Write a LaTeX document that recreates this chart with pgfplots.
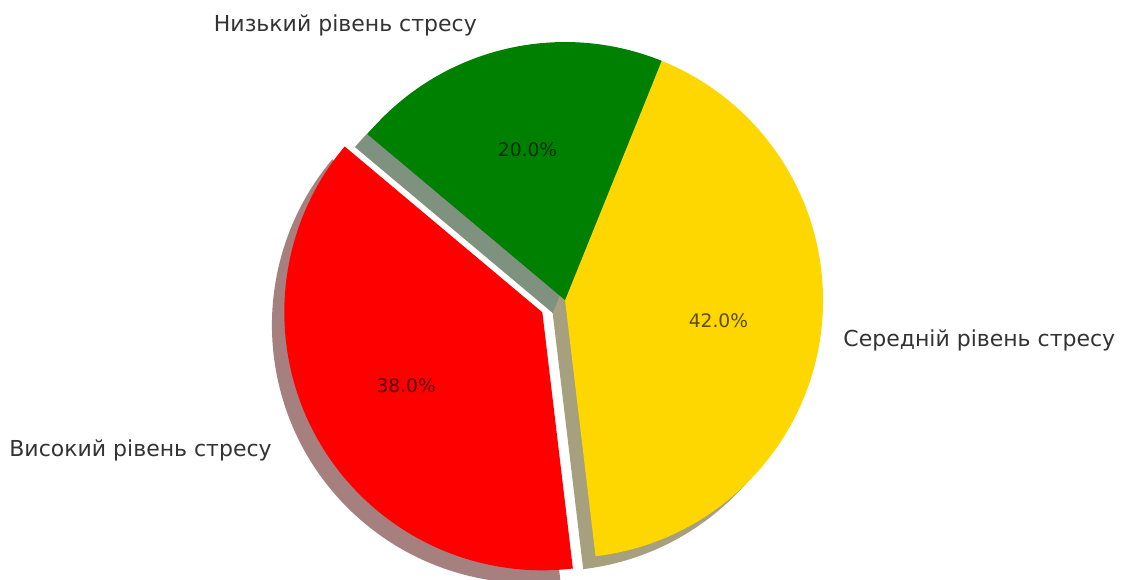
\documentclass[border=0pt]{standalone}
\usepackage{pgfplots}
\pgfplotsset{compat=1.18}
\usepackage{pgfplotstable}
\usepackage{fontspec}
\setmainfont{DejaVu Sans}
\definecolor{cRed}{RGB}{255,0,0}
\definecolor{cGold}{RGB}{255,215,0}
\definecolor{cGreen}{RGB}{0,128,0}
\definecolor{sRed}{RGB}{77,0,0}
\definecolor{sGold}{RGB}{77,65,0}
\definecolor{sGreen}{RGB}{0,38,0}
\definecolor{txt}{RGB}{51,51,51}

\pgfplotstableread{
label value
High 38
Medium 42
Low 20
}\piedata

\begin{document}
\begin{tikzpicture}
\pgfplotstablegetelem{0}{value}\of\piedata \let\vHigh\pgfplotsretval
\pgfplotstablegetelem{1}{value}\of\piedata \let\vMed\pgfplotsretval
\pgfplotstablegetelem{2}{value}\of\piedata \let\vLow\pgfplotsretval
\pgfmathsetmacro{\aZero}{140}
\pgfmathsetmacro{\aOne}{\aZero+3.6*\vHigh}
\pgfmathsetmacro{\aTwo}{\aOne+3.6*\vMed}
\pgfmathsetmacro{\aThree}{\aTwo+3.6*\vLow}
\pgfmathsetmacro{\mHigh}{(\aZero+\aOne)/2}
\pgfmathsetmacro{\mMed}{(\aOne+\aTwo)/2}
\pgfmathsetmacro{\mLow}{(\aTwo+\aThree)/2}
\pgfmathsetmacro{\ex}{0.1*cos(\mHigh)}
\pgfmathsetmacro{\ey}{0.1*sin(\mHigh)}
\def\sx{-0.048}
\def\sy{-0.05}
\def\R{193.5pt}
\pgfkeys{/pgf/number format/.cd, fixed, fixed zerofill, precision=1, assume math mode=true}
\begin{axis}[
  x=193.5pt, y=193.5pt,
  xmin=-2.190, xmax=2.186, ymin=-1.085, ymax=1.163,
  hide axis, clip=false,
]
\path (rel axis cs:0,0) rectangle (rel axis cs:1,1);
% shadows
\fill[overlay, sRed, fill opacity=0.5] (axis cs:{\ex+\sx},{\ey+\sy}) -- (axis cs:{\ex+\sx+cos(\aZero)},{\ey+\sy+sin(\aZero)}) arc[start angle=\aZero, end angle=\aOne, radius=\R] -- cycle;
\fill[overlay, sGold, fill opacity=0.5] (axis cs:{\sx},{\sy}) -- (axis cs:{\sx+cos(\aOne)},{\sy+sin(\aOne)}) arc[start angle=\aOne, end angle=\aTwo, radius=\R] -- cycle;
\fill[overlay, sGreen, fill opacity=0.5] (axis cs:{\sx},{\sy}) -- (axis cs:{\sx+cos(\aTwo)},{\sy+sin(\aTwo)}) arc[start angle=\aTwo, end angle=\aThree, radius=\R] -- cycle;
% wedges
\fill[overlay, cRed] (axis cs:{\ex},{\ey}) -- (axis cs:{\ex+cos(\aZero)},{\ey+sin(\aZero)}) arc[start angle=\aZero, end angle=\aOne, radius=\R] -- cycle;
\fill[overlay, cGold] (axis cs:0,0) -- (axis cs:{cos(\aOne)},{sin(\aOne)}) arc[start angle=\aOne, end angle=\aTwo, radius=\R] -- cycle;
\fill[overlay, cGreen] (axis cs:0,0) -- (axis cs:{cos(\aTwo)},{sin(\aTwo)}) arc[start angle=\aTwo, end angle=\aThree, radius=\R] -- cycle;
% percentages
\node[text=black, text opacity=0.65, font=\fontsize{14}{16}\selectfont] at (axis cs:{\ex+0.6*cos(\mHigh)},{\ey+0.6*sin(\mHigh)}) {\pgfmathprintnumber{\vHigh}\%};
\node[text=black, text opacity=0.65, font=\fontsize{14}{16}\selectfont] at (axis cs:{0.6*cos(\mMed)},{0.6*sin(\mMed)}) {\pgfmathprintnumber{\vMed}\%};
\node[text=black, text opacity=0.65, font=\fontsize{14}{16}\selectfont] at (axis cs:{0.6*cos(\mLow)},{0.6*sin(\mLow)}) {\pgfmathprintnumber{\vLow}\%};
% labels
\node[anchor=east, text=txt, inner sep=0pt, font=\fontsize{16.5}{18}\selectfont] at (axis cs:-0.341,1.066) {Низький рівень стресу};
\node[anchor=west, text=txt, inner sep=0pt, font=\fontsize{16.5}{18}\selectfont] at (axis cs:1.078,-0.155) {Середній рівень стресу};
\node[anchor=east, text=txt, inner sep=0pt, font=\fontsize{16.5}{18}\selectfont] at (axis cs:-1.136,-0.582) {Високий рівень стресу};
\end{axis}
\end{tikzpicture}
\end{document}
